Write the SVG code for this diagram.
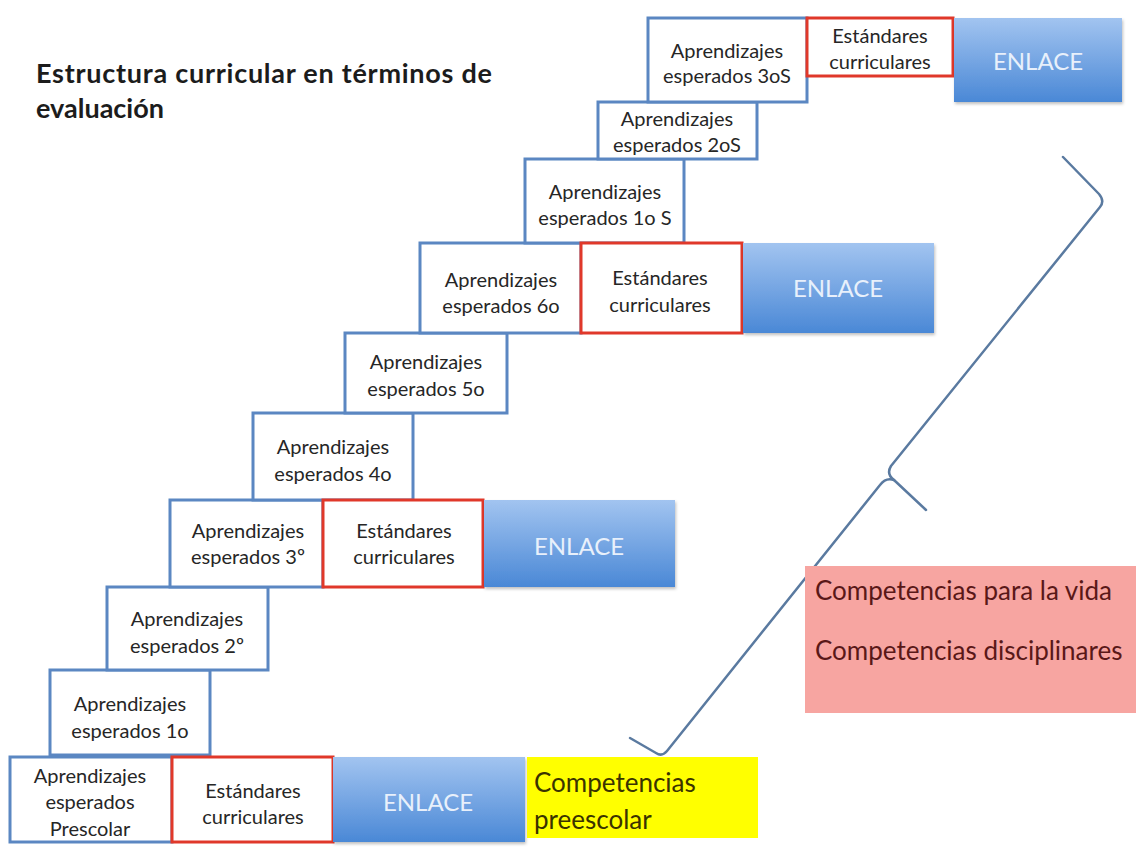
<svg xmlns="http://www.w3.org/2000/svg" width="1136" height="865" viewBox="0 0 1136 865">
<defs>
<linearGradient id="gBlue" x1="0" y1="0" x2="0" y2="1">
<stop offset="0" stop-color="#a2c4f0"/>
<stop offset="1" stop-color="#4a88d6"/>
</linearGradient>
<filter id="sh" x="-5%" y="-5%" width="112%" height="120%">
<feDropShadow dx="1" dy="2" stdDeviation="1.5" flood-color="#000" flood-opacity="0.25"/>
</filter>
</defs>
<style>
.ap{fill:#fff;stroke:#5b87c2;stroke-width:3}
.st{fill:#fff;stroke:#e0382a;stroke-width:3}
.en{fill:url(#gBlue);filter:url(#sh)}
.t{font-family:Lato,"Open Sans",sans-serif;font-size:20px;fill:#262626;text-anchor:middle}
.et{font-family:Lato,"Open Sans",sans-serif;font-size:24px;fill:#e8f0fb;text-anchor:middle}
.title{font-family:Lato,"Open Sans",sans-serif;font-size:27px;font-weight:bold;fill:#1c1c1c}
.brace{fill:none;stroke:#5a7aa0;stroke-width:2.5;stroke-linejoin:round;stroke-linecap:round}
</style>
<rect width="1136" height="865" fill="#fff"/>

<g id="title">
<text class="title" x="36" y="83" textLength="456">Estructura curricular en términos de</text>
<text class="title" x="36" y="118">evaluación</text>
</g>

<g id="connectors">
<path class="brace" d="M1063,157 L1099,194 Q1105,201 1100,207 L891,466 Q886,474 894,480 L926,510"/>
<path class="brace" d="M894,480 Q886,477 880,485 L667,751 Q662,757 656,753 L630,738"/>
</g>

<g id="n_row9">
<rect class="ap" x="10" y="757" width="162" height="85"/>
<text class="t"><tspan x="90" y="783">Aprendizajes</tspan><tspan x="90" y="809">esperados</tspan><tspan x="90" y="836">Prescolar</tspan></text>
</g>
<g id="n_row8">
<rect class="ap" x="50" y="670" width="160" height="85"/>
<text class="t"><tspan x="130" y="711">Aprendizajes</tspan><tspan x="130" y="738">esperados 1o</tspan></text>
</g>
<g id="n_row7">
<rect class="ap" x="107" y="587" width="161" height="83"/>
<text class="t"><tspan x="187" y="626">Aprendizajes</tspan><tspan x="187" y="653">esperados 2º</tspan></text>
</g>
<g id="n_row6">
<rect class="ap" x="170" y="500" width="153" height="87"/>
<text class="t"><tspan x="248" y="538">Aprendizajes</tspan><tspan x="248" y="564">esperados 3º</tspan></text>
</g>
<g id="n_row5">
<rect class="ap" x="253" y="413" width="160" height="87"/>
<text class="t"><tspan x="333" y="454">Aprendizajes</tspan><tspan x="333" y="481">esperados 4o</tspan></text>
</g>
<g id="n_row4">
<rect class="ap" x="345" y="333" width="162" height="80"/>
<text class="t"><tspan x="426" y="369">Aprendizajes</tspan><tspan x="426" y="396">esperados 5o</tspan></text>
</g>
<g id="n_row3">
<rect class="ap" x="420" y="243" width="161" height="90"/>
<text class="t"><tspan x="501" y="287">Aprendizajes</tspan><tspan x="501" y="313">esperados 6o</tspan></text>
</g>
<g id="n_row2">
<rect class="ap" x="525" y="159" width="159" height="84"/>
<text class="t"><tspan x="605" y="199">Aprendizajes</tspan><tspan x="605" y="225">esperados 1o S</tspan></text>
</g>
<g id="n_row1">
<rect class="ap" x="598" y="102" width="159" height="57"/>
<text class="t"><tspan x="677" y="126">Aprendizajes</tspan><tspan x="677" y="152">esperados 2oS</tspan></text>
</g>
<g id="n_row0">
<rect class="ap" x="648" y="18" width="159" height="84"/>
<text class="t"><tspan x="727" y="58">Aprendizajes</tspan><tspan x="727" y="83">esperados 3oS</tspan></text>
</g>

<g id="n_std9">
<rect class="st" x="172" y="757" width="161" height="85"/>
<text class="t"><tspan x="253" y="798">Estándares</tspan><tspan x="253" y="824">curriculares</tspan></text>
</g>
<g id="n_std6">
<rect class="st" x="323" y="500" width="160" height="87"/>
<text class="t"><tspan x="404" y="538">Estándares</tspan><tspan x="404" y="564">curriculares</tspan></text>
</g>
<g id="n_std3">
<rect class="st" x="581" y="243" width="161" height="90"/>
<text class="t"><tspan x="660" y="285">Estándares</tspan><tspan x="660" y="312">curriculares</tspan></text>
</g>
<g id="n_std0">
<rect class="st" x="807" y="18" width="146" height="58"/>
<text class="t"><tspan x="880" y="43">Estándares</tspan><tspan x="880" y="69">curriculares</tspan></text>
</g>

<g id="n_enl9">
<rect class="en" x="333" y="757" width="192" height="85"/>
<text class="et" x="428" y="811">ENLACE</text>
</g>
<g id="n_enl6">
<rect class="en" x="484" y="500" width="191" height="87"/>
<text class="et" x="579" y="555">ENLACE</text>
</g>
<g id="n_enl3">
<rect class="en" x="743" y="243" width="191" height="90"/>
<text class="et" x="838" y="297">ENLACE</text>
</g>
<g id="n_enl0">
<rect class="en" x="954" y="18" width="168" height="84"/>
<text class="et" x="1038" y="70">ENLACE</text>
</g>

<g id="n_preescolar">
<rect x="527" y="757" width="231" height="81" fill="#ffff00"/>
<text font-family="Lato,'Open Sans',sans-serif" font-size="26" fill="#3a3300"><tspan x="534" y="792">Competencias</tspan><tspan x="534" y="829">preescolar</tspan></text>
</g>

<g id="n_competencias">
<rect x="805" y="566" width="331" height="147" fill="#f7a5a1"/>
<text font-family="Lato,'Open Sans',sans-serif" font-size="26" fill="#5a1818"><tspan x="815" y="600">Competencias para la vida</tspan><tspan x="815" y="660">Competencias disciplinares</tspan></text>
</g>
</svg>
